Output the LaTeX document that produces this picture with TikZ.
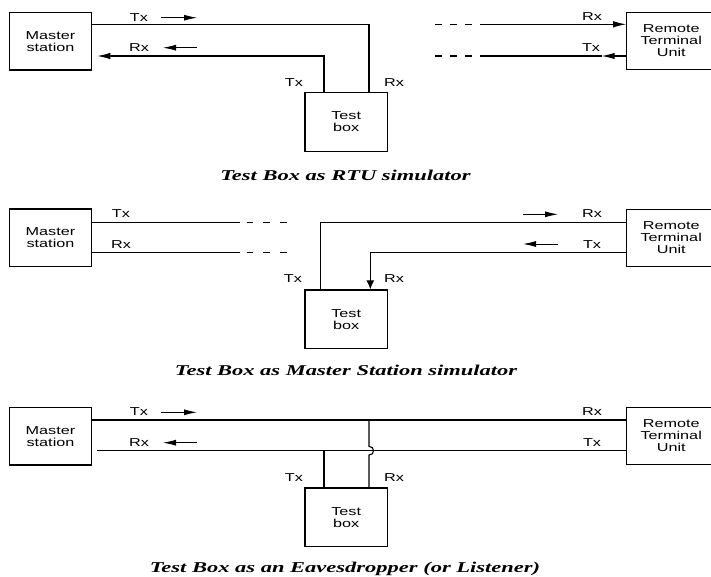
\documentclass[tikz,border=0pt]{standalone}
\usepackage{fontspec}
\usetikzlibrary{arrows.meta}
\newfontfamily\labfont[FakeStretch=1.41]{Liberation Sans}
\newfontfamily\capfont[FakeStretch=1.5]{Liberation Serif}
\begin{document}
\begin{tikzpicture}[x=1pt,y=-1pt,
  box/.style={draw,line width=1.2pt,inner sep=0pt,align=center,
    font=\labfont\fontsize{11.5}{12}\selectfont},
  msbox/.style={box,minimum width=82.4pt,minimum height=57.5pt},
  tbbox/.style={box,minimum width=82.3pt,minimum height=58.5pt},
  rtubox/.style={box,minimum width=89pt,minimum height=57pt},
  lab/.style={anchor=base,inner sep=0pt,font=\labfont\fontsize{11.5}{12}\selectfont},
  captext/.style={anchor=base,inner sep=0pt,font=\capfont\bfseries\itshape\fontsize{15}{18}\selectfont},
  wire/.style={line width=1.1pt},
  harrow/.style={-{Latex[length=13pt,width=6.5pt]}},
  varrow/.style={-{Latex[length=9pt,width=8pt]}},
  sarrow/.style={line width=0.9pt,-{Latex[length=13pt,width=6pt]}},
  dashA/.style={wire,dash pattern=on 6.7pt off 8.3pt},
  dashB/.style={wire,dash pattern=on 6.7pt off 10pt},
]
\useasboundingbox (0,0) rectangle (711,576);

% ================= Panel 1 =================
\node[msbox] (ms1) at (50.5,41.3) {Master\\station};
\node[tbbox] (tb1) at (346.2,121.9) {Test\\box};
\node[rtubox] (rtu1) at (671.2,41) {Remote\\Terminal\\Unit};

\coordinate (a1) at (369,24.3);
\draw[wire] (ms1.east |- a1) -- (a1) -- (tb1.north -| a1);
\coordinate (b1) at (324,56);
\draw[wire,harrow] (tb1.north -| b1) -- (b1) -- ([xshift=5pt]ms1.east |- b1);

\coordinate (d1a) at (435,24.3); \coordinate (d1b) at (472,24.3);
\coordinate (d2a) at (435,56); \coordinate (d2b) at (472,56);
\draw[dashA] (d1a) -- (d1b);
\draw[dashA] (d2a) -- (d2b);
\coordinate (s1) at (480,24.3);
\draw[wire,harrow] (s1) -- (rtu1.west |- s1);
\coordinate (s2) at (480,56);
\coordinate (t1) at (601.7,56);
\draw[wire,harrow] (rtu1.west |- s2) -- (t1);
\draw[wire] (t1) -- (s2);

\coordinate (p1a) at (161,17.7); \coordinate (p1b) at (197,17.7);
\draw[sarrow] (p1a) -- (p1b);
\coordinate (p2a) at (197,47.7); \coordinate (p2b) at (163,47.7);
\draw[sarrow] (p2a) -- (p2b);

\node[lab] (l1a) at (139,21) {Tx};
\node[lab] (l1b) at (139,51.7) {Rx};
\node[lab] (l1c) at (294,86) {Tx};
\node[lab] (l1d) at (394,86) {Rx};
\node[lab] (l1e) at (592,20) {Rx};
\node[lab] (l1f) at (591,51.7) {Tx};
\node[captext] (c1) at (345.5,180) {Test Box as RTU simulator};

% ================= Panel 2 =================
\node[msbox] (ms2) at (50.5,237.8) {Master\\station};
\node[tbbox] (tb2) at (346.2,319.2) {Test\\box};
\node[rtubox] (rtu2) at (671.2,238) {Remote\\Terminal\\Unit};

\coordinate (e1) at (240,222.3); \coordinate (e2) at (240,252.5);
\draw[wire] (ms2.east |- e1) -- (e1);
\draw[wire] (ms2.east |- e2) -- (e2);
\coordinate (f1a) at (246.7,222.3); \coordinate (f1b) at (287,222.3);
\coordinate (f2a) at (246.7,252.5); \coordinate (f2b) at (287,252.5);
\draw[dashB] (f1a) -- (f1b);
\draw[dashB] (f2a) -- (f2b);

\coordinate (g1) at (320.7,222.3);
\draw[wire] (rtu2.west |- g1) -- (g1) -- (tb2.north -| g1);
\coordinate (g2) at (370.3,252.5);
\draw[wire,varrow] (rtu2.west |- g2) -- (g2) -- (tb2.north -| g2);

\coordinate (q1a) at (523,214.3); \coordinate (q1b) at (558,214.3);
\draw[sarrow] (q1a) -- (q1b);
\coordinate (q2a) at (558,244); \coordinate (q2b) at (523,244);
\draw[sarrow] (q2a) -- (q2b);

\node[lab] (l2a) at (121,217.3) {Tx};
\node[lab] (l2b) at (121,248) {Rx};
\node[lab] (l2c) at (293,282.7) {Tx};
\node[lab] (l2d) at (394,282.7) {Rx};
\node[lab] (l2e) at (592,217.3) {Rx};
\node[lab] (l2f) at (592,248.3) {Tx};
\node[captext] (c2) at (346,375) {Test Box as Master Station simulator};

% ================= Panel 3 =================
\node[msbox] (ms3) at (50.5,436.2) {Master\\station};
\node[tbbox] (tb3) at (346.2,517.2) {Test\\box};
\node[rtubox] (rtu3) at (671.2,436) {Remote\\Terminal\\Unit};

\coordinate (k1) at (369,420);
\draw[wire] (ms3.east |- k1) -- (rtu3.west |- k1);
\coordinate (k2) at (324,450.7);
\draw[wire] ([xshift=5pt]ms3.east |- k2) -- (rtu3.west |- k2);
\draw[wire] (k2) -- (tb3.north -| k2);
\coordinate (h2) at (369,446.3); \coordinate (h3) at (369,455.1);
\draw[wire] (k1) -- (h2) .. controls (375,446.3) and (375,455.1) .. (h3) -- (tb3.north -| h3);

\coordinate (r1a) at (161,412.3); \coordinate (r1b) at (197,412.3);
\draw[sarrow] (r1a) -- (r1b);
\coordinate (r2a) at (197,442.7); \coordinate (r2b) at (163,442.7);
\draw[sarrow] (r2a) -- (r2b);

\node[lab] (l3a) at (139,415.7) {Tx};
\node[lab] (l3b) at (139,446.7) {Rx};
\node[lab] (l3c) at (294,481) {Tx};
\node[lab] (l3d) at (394,481) {Rx};
\node[lab] (l3e) at (592,415) {Rx};
\node[lab] (l3f) at (592,446) {Tx};
\node[captext] (c3) at (345,572) {Test Box as an Eavesdropper (or Listener)};
\end{tikzpicture}
\end{document}
